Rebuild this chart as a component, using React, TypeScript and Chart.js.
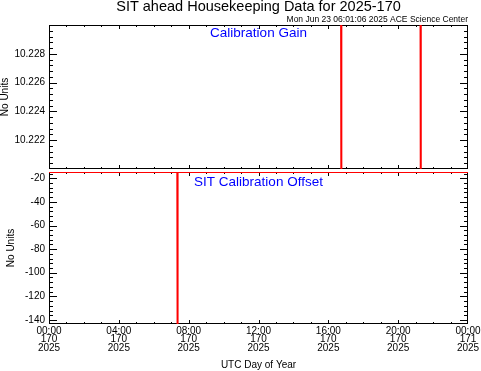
import React, { useEffect, useRef } from 'react';
import { Chart, registerables } from 'chart.js';

Chart.register(...registerables);

const FONT = "'Liberation Sans', Arial, Helvetica, sans-serif";

// ---- text ----
const titleText = 'SIT ahead Housekeeping Data for 2025-170';
const subtitleText = 'Mon Jun 23 06:01:06 2025 ACE Science Center';
const xAxisTitle = 'UTC Day of Year';
const yAxisTitle = 'No Units';
const gainLabel = 'Calibration Gain';
const offsetLabel = 'SIT Calibration Offset';

// ---- x axis: hours since 00:00 UTC of day 170 ----
const xRange = [0, 24];
const xTickHours = [0, 4, 8, 12, 16, 20, 24];
const xTickTimes = ['00:00', '04:00', '08:00', '12:00', '16:00', '20:00', '00:00'];
const xTickDays = ['170', '170', '170', '170', '170', '170', '171'];
const xTickYears = ['2025', '2025', '2025', '2025', '2025', '2025', '2025'];

// ---- top panel: Calibration Gain ----
const gainRange = [10.22, 10.23];
const gainTicks = [10.222, 10.224, 10.226, 10.228];
const gainTimes = [0, 16.73, 16.74, 16.75, 21.28, 21.29, 21.3, 24];
const gainValues = [10.232, 10.232, 10.218, 10.232, 10.232, 10.218, 10.232, 10.232];

// ---- bottom panel: SIT Calibration Offset ----
const offsetRange = [-143.4, -14.7];
const offsetTicks = [-20, -40, -60, -80, -100, -120, -140];
const offsetTimes = [0, 7.35, 7.36, 7.37, 24];
const offsetValues = [-14.7, -14.7, -143.4, -14.7, -14.7];

function tickList(majors: number[], div: number, min: number, max: number) {
  const step = Math.abs(majors[1] - majors[0]) / div;
  const base = majors[0];
  const out: [number, boolean][] = [];
  const k0 = Math.ceil((min - base) / step - 1e-6);
  for (let k = k0; base + k * step <= max + step * 1e-6; k++) {
    const v = base + k * step;
    out.push([v, ((k % div) + div) % div === 0]);
  }
  return out;
}

function makeFrame(cfg: any) {
  return {
    id: 'idlFrame_' + cfg.name,
    beforeDatasetsDraw(chart: any) {
      const { ctx, chartArea: a } = chart;
      const xs = chart.scales.x;
      const ys = chart.scales.y;
      ctx.save();
      ctx.strokeStyle = '#000';
      ctx.lineWidth = 1;
      ctx.beginPath();
      ctx.rect(a.left + 0.5, a.top + 0.5, a.right - a.left - 1, a.bottom - a.top - 1);
      for (const [v, major] of tickList(xTickHours, 4, xs.min, xs.max)) {
        let px = Math.round(xs.getPixelForValue(v)) + 0.5;
        px = Math.min(Math.max(px, a.left + 0.5), a.right - 0.5);
        const len = major ? 4 : 2;
        ctx.moveTo(px, a.bottom);
        ctx.lineTo(px, a.bottom - len);
        ctx.moveTo(px, a.top);
        ctx.lineTo(px, a.top + len);
      }
      for (const [v, major] of tickList(cfg.yMajors, 5, ys.min, ys.max)) {
        let py = Math.round(ys.getPixelForValue(v)) + 0.5;
        py = Math.min(Math.max(py, a.top + 0.5), a.bottom - 0.5);
        const len = major ? 8 : 4;
        ctx.moveTo(a.left, py);
        ctx.lineTo(a.left + len, py);
        ctx.moveTo(a.right, py);
        ctx.lineTo(a.right - len, py);
      }
      ctx.stroke();
      ctx.restore();
    },
    afterDraw(chart: any) {
      const { ctx, chartArea: a } = chart;
      ctx.save();
      ctx.fillStyle = '#0000ff';
      ctx.font = `13.5px ${FONT}`;
      ctx.textAlign = 'center';
      ctx.textBaseline = 'middle';
      ctx.fillText(cfg.label, (a.left + a.right) / 2, a.top + cfg.labelDy);
      ctx.restore();
    },
  };
}

function yScale(range: number[], ticks: number[], fmt: (v: number) => string, titlePad: number) {
  return {
    type: 'linear',
    min: range[0],
    max: range[1],
    afterBuildTicks: (s: any) => {
      s.ticks = ticks.map((v) => ({ value: v }));
    },
    ticks: {
      callback: (v: any) => fmt(Number(v)),
      font: { family: FONT, size: 10 },
      color: '#000',
      padding: 4,
      autoSkip: false,
    },
    grid: { display: false, drawTicks: false },
    border: { display: false },
    title: {
      display: true,
      text: yAxisTitle,
      color: '#000',
      font: { family: FONT, size: 10, lineHeight: 1 },
      padding: { top: titlePad, bottom: 0 },
    },
    afterFit: (s: any) => {
      s.width = 49;
      s.paddingTop = 0;
      s.paddingBottom = 0;
    },
  };
}

function topConfig(): any {
  return {
    type: 'line',
    data: {
      datasets: [
        {
          data: gainTimes.map((t, i) => ({ x: t, y: gainValues[i] })),
          borderColor: '#ff0000',
          borderWidth: 2,
          pointRadius: 0,
          fill: false,
          tension: 0,
        },
      ],
    },
    options: {
      animation: false,
      responsive: false,
      events: [],
      layout: { padding: { top: 0, left: 0, right: 13, bottom: 202 } },
      plugins: {
        legend: { display: false },
        tooltip: { enabled: false },
        title: {
          display: true,
          text: titleText,
          fullSize: false,
          color: '#000',
          font: { family: FONT, size: 14.5, weight: 'normal', lineHeight: 1 },
          padding: 0,
        },
        subtitle: {
          display: true,
          text: subtitleText,
          align: 'end',
          fullSize: false,
          color: '#000',
          font: { family: FONT, size: 8.5, weight: 'normal', lineHeight: 1 },
          padding: { top: 0.75, bottom: 1.25 },
        },
      },
      scales: {
        x: {
          type: 'linear',
          min: xRange[0],
          max: xRange[1],
          display: false,
        },
        y: yScale(gainRange, gainTicks, (v) => v.toFixed(3), 0.5),
      },
    },
    plugins: [makeFrame({ name: 'gain', yMajors: gainTicks, label: gainLabel, labelDy: 8 })],
  };
}

function bottomConfig(): any {
  return {
    type: 'line',
    data: {
      datasets: [
        {
          data: offsetTimes.map((t, i) => ({ x: t, y: offsetValues[i] })),
          borderColor: '#ff0000',
          borderWidth: 2,
          pointRadius: 0,
          fill: false,
          tension: 0,
        },
      ],
    },
    options: {
      animation: false,
      responsive: false,
      events: [],
      layout: { padding: { top: 172, left: 0, right: 13, bottom: 0 } },
      plugins: {
        legend: { display: false },
        tooltip: { enabled: false },
      },
      scales: {
        x: {
          type: 'linear',
          min: xRange[0],
          max: xRange[1],
          afterBuildTicks: (s: any) => {
            s.ticks = xTickHours.map((v) => ({ value: v }));
          },
          ticks: {
            callback: (v: any) => {
              const i = xTickHours.indexOf(Number(v));
              return [xTickTimes[i], xTickDays[i], xTickYears[i]];
            },
            font: { family: FONT, size: 10, lineHeight: 0.85 },
            color: '#000',
            padding: 2.5,
            maxRotation: 0,
            minRotation: 0,
            autoSkip: false,
          },
          grid: { display: false, drawTicks: false },
          border: { display: false },
          title: {
            display: true,
            text: xAxisTitle,
            color: '#000',
            font: { family: FONT, size: 10, lineHeight: 1.2 },
            padding: 0,
          },
          afterFit: (s: any) => {
            s.height = 47;
            s.paddingLeft = 0;
            s.paddingRight = 0;
          },
        },
        y: yScale(offsetRange, offsetTicks, (v) => String(v), 6.5),
      },
    },
    plugins: [makeFrame({ name: 'offset', yMajors: offsetTicks, label: offsetLabel, labelDy: 10.3 })],
  };
}

export default function App() {
  const topRef = useRef<HTMLCanvasElement>(null);
  const botRef = useRef<HTMLCanvasElement>(null);

  useEffect(() => {
    const c1 = new Chart(topRef.current as HTMLCanvasElement, topConfig());
    const c2 = new Chart(botRef.current as HTMLCanvasElement, bottomConfig());
    return () => {
      c1.destroy();
      c2.destroy();
    };
  }, []);

  const canvasStyle: React.CSSProperties = {
    position: 'absolute',
    left: 0,
    top: 0,
    width: 481,
    height: 371,
  };

  return (
    <div
      style={{
        position: 'fixed',
        left: 0,
        top: 0,
        width: 481,
        height: 371,
        background: '#fff',
        overflow: 'hidden',
      }}
    >
      <canvas ref={botRef} width={481} height={371} style={canvasStyle} />
      <canvas ref={topRef} width={481} height={371} style={canvasStyle} />
    </div>
  );
}
